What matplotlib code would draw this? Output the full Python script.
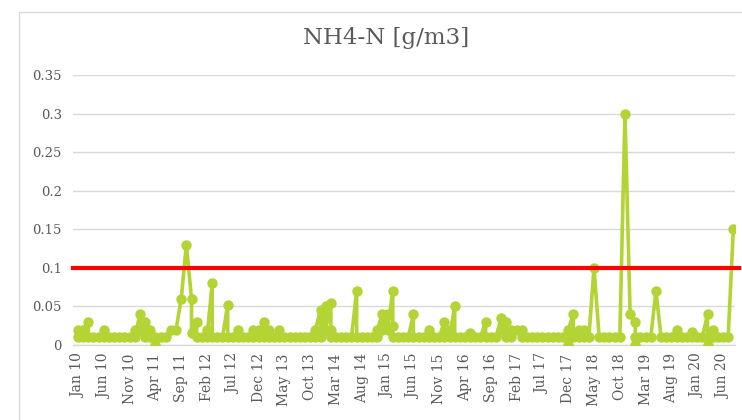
import matplotlib.pyplot as plt
from matplotlib.patches import Rectangle

# NH4-N samples per month, Jan 2010 .. Aug 2020
# (Excel date axis with month base unit -> samples in the same month share one x position)
nh4_samples = [
    # 2010
    [0.02, 0.01], [0.01, 0.02], [0.03, 0.01], [0.01], [0.01], [0.02, 0.01],
    [0.01], [0.01], [0.01], [0.01], [0.01], [0.02, 0.01],
    # 2011
    [0.04, 0.02], [0.03, 0.01], [0.02, 0.01], [0.0, 0.01], [0.01], [0.01],
    [0.02], [0.02], [0.06], [0.13], [0.06, 0.015], [0.03, 0.01],
    # 2012
    [0.01], [0.02, 0.01], [0.08, 0.01], [0.01], [0.01], [0.052, 0.01],
    [0.01], [0.02, 0.01], [0.01], [0.01], [0.02, 0.01], [0.02, 0.01],
    # 2013
    [0.03, 0.01], [0.02, 0.01], [0.01], [0.02, 0.01], [0.01], [0.01],
    [0.01], [0.01], [0.01], [0.01], [0.01, 0.02], [0.045, 0.01],
    # 2014
    [0.05, 0.02], [0.055, 0.02, 0.01], [0.01], [0.01], [0.01], [0.01],
    [0.07, 0.01], [0.01], [0.01], [0.01], [0.01, 0.02], [0.04, 0.02],
    # 2015
    [0.04, 0.02], [0.07, 0.025, 0.01], [0.01], [0.01], [0.01], [0.04, 0.01],
    [0.01], [0.01], [0.02, 0.01], [0.01], [0.01], [0.03, 0.01],
    # 2016
    [0.02, 0.01], [0.05, 0.01], [0.01], [0.01], [0.015, 0.01], [0.01],
    [0.01], [0.03, 0.01], [0.01], [0.01], [0.035, 0.02], [0.03, 0.01],
    # 2017
    [0.02, 0.01], [0.02], [0.02, 0.01], [0.01], [0.01], [0.01],
    [0.01], [0.01], [0.01], [0.01], [0.01], [0.0, 0.02],
    # 2018
    [0.04, 0.01], [0.01, 0.02], [0.02, 0.01], [0.01], [0.1], [0.01],
    [0.01], [0.01], [0.01], [0.01], [0.3], [0.04],
    # 2019
    [0.03, 0.0, 0.01], [0.01], [0.01], [0.01], [0.07], [0.01],
    [0.01], [0.01], [0.02, 0.01], [0.01], [0.01], [0.017, 0.01],
    # 2020
    [0.01], [0.01], [0.04, 0.0], [0.02, 0.01], [0.01], [0.01],
    [0.01], [0.15],
]

tick_labels = ['Jan 10', 'Jun 10', 'Nov 10', 'Apr 11', 'Sep 11', 'Feb 12', 'Jul 12',
               'Dec 12', 'May 13', 'Oct 13', 'Mar 14', 'Aug 14', 'Jan 15', 'Jun 15',
               'Nov 15', 'Apr 16', 'Sep 16', 'Feb 17', 'Jul 17', 'Dec 17', 'May 18',
               'Oct 18', 'Mar 19', 'Aug 19', 'Jan 20', 'Jun 20']

limit_value = 0.1

x, y = [], []
for month_idx, values in enumerate(nh4_samples):
    for v in values:
        x.append(month_idx)
        y.append(v)

text_color = '#595959'
grid_color = '#D9D9D9'
plt.rcParams['font.family'] = ['DejaVu Serif']

fig = plt.figure(figsize=(7.42, 4.2), dpi=100)
ax = fig.add_axes([0.0984, 0.1786, 0.892, 0.643])

# outer chart-area frame (cut off at the right and bottom in the original)
fig.patches.append(Rectangle((19 / 742, -0.1), 1.2, 1 - 12 / 420 + 0.1,
                             transform=fig.transFigure, fill=False,
                             edgecolor=grid_color, linewidth=1))

ax.plot(x, y, color='#B4D334', linewidth=2.6, marker='o', markersize=7.5,
        markeredgewidth=0, zorder=3)
ax.axhline(limit_value, xmin=0, xmax=1.006, color='#FF0000', linewidth=3,
           clip_on=False, zorder=4)

ax.set_xlim(-0.97, 127.3)
ax.set_ylim(0, 0.35)
ax.set_yticks([0, 0.05, 0.1, 0.15, 0.2, 0.25, 0.3, 0.35])
ax.set_yticklabels(['0', '0.05', '0.1', '0.15', '0.2', '0.25', '0.3', '0.35'])
ax.set_xticks(range(0, len(nh4_samples), 5))
ax.set_xticklabels(tick_labels, rotation=90)

ax.tick_params(axis='both', length=0, colors=text_color)
ax.tick_params(axis='y', labelsize=9.5, pad=8)
ax.tick_params(axis='x', labelsize=10, pad=6)

for side in ['top', 'right', 'left']:
    ax.spines[side].set_visible(False)
ax.spines['bottom'].set_color(grid_color)
ax.spines['bottom'].set_linewidth(1)
ax.grid(axis='y', color=grid_color, linewidth=1)
ax.set_axisbelow(True)

fig.text(0.52, 0.91, 'NH4-N [g/m3]', ha='center', va='center',
         fontsize=16.5, color=text_color)

fig.savefig('out.png', dpi=100)
